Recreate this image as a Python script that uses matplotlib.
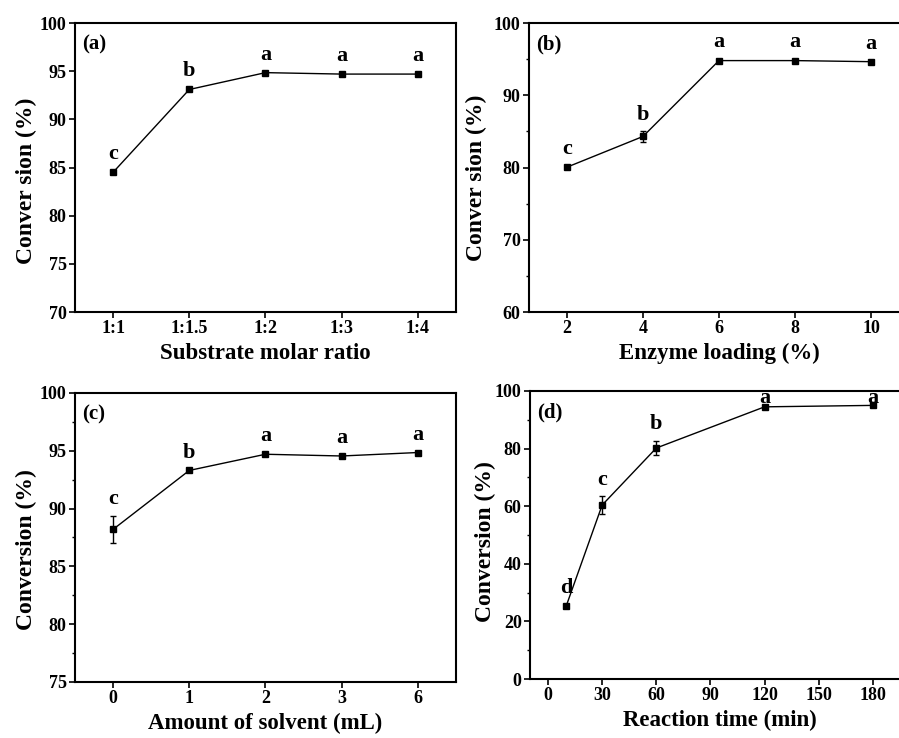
import numpy as np
import matplotlib.pyplot as plt
from matplotlib.ticker import MultipleLocator

plt.rcParams['font.family'] = ['Liberation Serif', 'DejaVu Serif']
plt.rcParams['font.weight'] = 'bold'
plt.rcParams['axes.labelweight'] = 'bold'

# (a) substrate molar ratio
ratio_labels = ['1:1', '1:1.5', '1:2', '1:3', '1:4']
ratio_conv = [84.5, 93.1, 94.85, 94.7, 94.7]
ratio_err = [0.15, 0.15, 0.15, 0.1, 0.1]
ratio_letters = ['c', 'b', 'a', 'a', 'a']

# (b) enzyme loading
enzyme_load = [2, 4, 6, 8, 10]
enzyme_conv = [80.05, 84.3, 94.8, 94.8, 94.65]
enzyme_err = [0.2, 0.7, 0.2, 0.2, 0.2]
enzyme_letters = ['c', 'b', 'a', 'a', 'a']

# (c) amount of solvent
solvent_labels = ['0', '1', '2', '3', '6']
solvent_conv = [88.2, 93.3, 94.7, 94.55, 94.85]
solvent_err = [1.2, 0.1, 0.1, 0.1, 0.1]
solvent_letters = ['c', 'b', 'a', 'a', 'a']

# (d) reaction time
time_min = [10, 30, 60, 120, 180]
time_conv = [25.2, 60.4, 80.2, 94.5, 95.0]
time_err = [0.6, 3.0, 2.5, 0.5, 0.4]
time_letters = ['d', 'c', 'b', 'a', 'a']


def draw(ax, x, y, err, letters, tag):
    ax.errorbar(x, y, yerr=err, color='black', lw=1.0, marker='s', ms=5,
                capsize=2.5, elinewidth=1.0, capthick=1.0)
    top = ax.get_ylim()[1]
    for xi, yi, ei, lt in zip(x, y, err, letters):
        # letters near the top sit on the frame line, like the original
        y_top = ax.transData.transform((0, top))[1]
        y_pt = ax.transData.transform((0, yi + ei))[1]
        off = min(12, (y_top - y_pt) * 72 / 100 - 5)
        ax.annotate(lt, (xi, yi + ei), xytext=(0, off), textcoords='offset points',
                    ha='center', va='center', fontsize=16, fontweight='bold',
                    annotation_clip=False)
    ax.text(0.02, 0.925, tag, transform=ax.transAxes, fontsize=15,
            fontweight='bold', va='center', ha='left')
    for s in ax.spines.values():
        s.set_linewidth(1.5)
    ax.tick_params(direction='out', length=4, width=1.2, labelsize=13,
                   top=False, right=False, pad=2)
    ax.tick_params(which='minor', direction='out', length=2.5, width=1.0)
    for t in ax.get_xticklabels() + ax.get_yticklabels():
        t.set_fontweight('bold')


fig = plt.figure(figsize=(8.99, 7.38), dpi=100)

ax1 = fig.add_axes([0.0834, 0.5772, 0.4238, 0.3916])
ax1.set_xlim(-0.5, 4.5)
ax1.set_ylim(70, 100)
ax1.set_yticks(np.arange(70, 101, 5))
ax1.set_xticks(range(len(ratio_labels)))
ax1.set_xticklabels(ratio_labels)
draw(ax1, range(len(ratio_labels)), ratio_conv, ratio_err, ratio_letters, '(a)')
ax1.set_xlabel('Substrate molar ratio', fontsize=16.5)
ax1.set_ylabel('Conver sion (%)', fontsize=17)
ax1.yaxis.set_label_coords(-0.10, 0.453)

ax2 = fig.add_axes([0.5884, 0.5772, 0.4227, 0.3916])
ax2.set_xlim(1, 11)
ax2.set_ylim(60, 100)
ax2.set_xticks(enzyme_load)
ax2.set_yticks(np.arange(60, 101, 10))
ax2.yaxis.set_minor_locator(MultipleLocator(5))
draw(ax2, enzyme_load, enzyme_conv, enzyme_err, enzyme_letters, '(b)')
ax2.set_xlabel('Enzyme loading (%)', fontsize=16.5)
ax2.set_ylabel('Conver sion (%)', fontsize=17)
ax2.yaxis.set_label_coords(-0.11, 0.464)

ax3 = fig.add_axes([0.0834, 0.0759, 0.4238, 0.3916])
ax3.set_xlim(-0.5, 4.5)
ax3.set_ylim(75, 100)
ax3.set_yticks(np.arange(75, 101, 5))
ax3.yaxis.set_minor_locator(MultipleLocator(2.5))
ax3.set_xticks(range(len(solvent_labels)))
ax3.set_xticklabels(solvent_labels)
draw(ax3, range(len(solvent_labels)), solvent_conv, solvent_err, solvent_letters, '(c)')
ax3.set_xlabel('Amount of solvent (mL)', fontsize=16.5)
ax3.set_ylabel('Conversion (%)', fontsize=17)
ax3.yaxis.set_label_coords(-0.10, 0.457)

ax4 = fig.add_axes([0.5895, 0.0799, 0.4216, 0.3903])
ax4.set_xlim(-10, 200)
ax4.set_ylim(0, 100)
ax4.set_xticks(np.arange(0, 181, 30))
ax4.set_yticks(np.arange(0, 101, 20))
ax4.yaxis.set_minor_locator(MultipleLocator(10))
draw(ax4, time_min, time_conv, time_err, time_letters, '(d)')
ax4.set_xlabel('Reaction time (min)', fontsize=16.5)
ax4.set_ylabel('Conversion (%)', fontsize=17)
ax4.yaxis.set_label_coords(-0.09, 0.476)

fig.savefig('out.png', dpi=100)
